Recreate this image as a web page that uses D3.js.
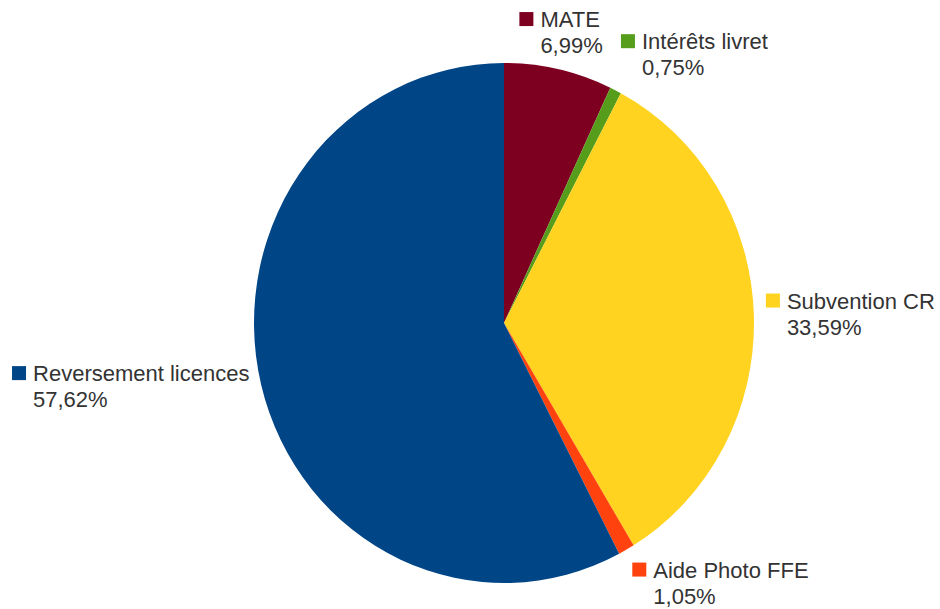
<!DOCTYPE html>
<html>
<head>
<meta charset="utf-8">
<script src="https://cdn.jsdelivr.net/npm/d3@7"></script>
<style>
  body { margin: 0; background: #fff; }
  svg { display: block; }
  text { font-family: "Liberation Sans", Arial, sans-serif; font-size: 22px; fill: #333; }
</style>
</head>
<body>
<svg id="chart"></svg>
<script>
// DATA (clockwise from 12 o'clock)
var categories = ["MATE", "Intérêts livret", "Subvention CR", "Aide Photo FFE", "Reversement licences"];
var shares = [6.99, 0.75, 33.59, 1.05, 57.62];
var colors = ["#7e0021", "#579d1c", "#ffd320", "#ff420e", "#004586"];

// LAYOUT
var width = 940;
var height = 609;
var cx = 504, cy = 323;
var radius = 250;
var stretchY = 1.04;      // the reference pie is a little taller than wide
var labelRadius = 262;
var box = 14;             // legend square

var svg = d3.select('#chart')
  .attr('width', width)
  .attr('height', height);

var pie = d3.pie().sort(null).value(function(d) { return d; });
var arcs = pie(shares);
var arc = d3.arc().innerRadius(0).outerRadius(radius);
var fmt = function(v) { return d3.format(".2f")(v).replace(".", ",") + "%"; };

// SLICES
svg.append('g')
  .attr('transform', 'translate(' + cx + ',' + cy + ') scale(1,' + stretchY + ')')
  .selectAll('path')
  .data(arcs)
  .enter()
  .append('path')
  .attr('d', arc)
  .attr('fill', function(d, i) { return colors[i]; });

// LABELS
arcs.forEach(function(d, i) {
  var mid = (d.startAngle + d.endAngle) / 2;
  var px = cx + labelRadius * Math.sin(mid);
  var py = cy - labelRadius * stretchY * Math.cos(mid);

  var g = svg.append('g');
  g.append('rect')
    .attr('x', 0)
    .attr('y', 2)
    .attr('width', box)
    .attr('height', box)
    .attr('fill', colors[i]);
  g.append('text')
    .attr('x', box + 7)
    .attr('y', 17)
    .text(categories[i]);
  g.append('text')
    .attr('x', box + 7)
    .attr('y', 43)
    .text(fmt(shares[i]));

  var w = g.node().getBBox().width;
  var h = 47;
  // 8 sectors around the pie decide which corner/edge touches the anchor
  var s = Math.round(mid / (Math.PI / 4)) % 8;
  var x, y;
  if (s === 0)      { x = px - w / 2; y = py - h; }
  else if (s === 1) { x = px;         y = py - h; }
  else if (s === 2) { x = px;         y = py - h / 2; }
  else if (s === 3) { x = px;         y = py; }
  else if (s === 4) { x = px - w / 2; y = py; }
  else if (s === 5) { x = px - w;     y = py; }
  else if (s === 6) { x = px - w;     y = py - h / 2; }
  else              { x = px - w;     y = py - h; }
  g.attr('transform', 'translate(' + x + ',' + y + ')');
});
</script>
</body>
</html>
